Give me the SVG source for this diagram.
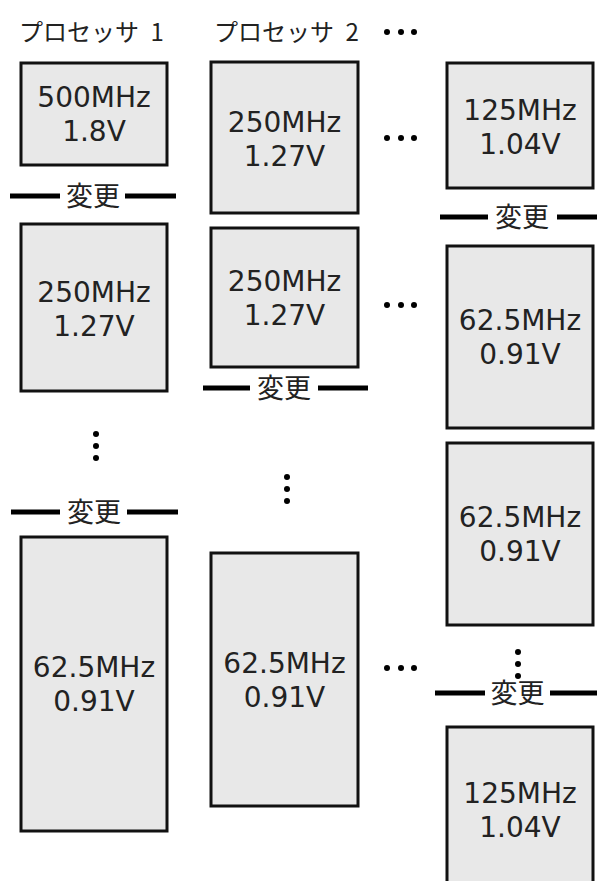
<svg xmlns="http://www.w3.org/2000/svg" width="597" height="881" viewBox="0 0 597 881">
<style>
.box{fill:#e8e8e8;stroke:#111;stroke-width:3}
.t{font-family:"DejaVu Sans","Noto Sans CJK JP",sans-serif;font-size:28px;fill:#222;text-anchor:middle}
.title{font-family:"Noto Sans CJK JP","DejaVu Sans",sans-serif;font-size:24px;fill:#222;word-spacing:6px}
.chg{font-family:"Noto Sans CJK JP",sans-serif;font-size:27px;fill:#222;text-anchor:middle}
.sep{stroke:#000;stroke-width:5}
.dot{fill:#000}
</style>
<rect width="597" height="881" fill="#fff"/>
<g id="titles">
<text class="title" x="19" y="41">プロセッサ 1</text>
<text class="title" x="214" y="41">プロセッサ 2</text>
</g>
<g id="p1-b1"><rect class="box" x="21" y="63" width="146" height="102"/><text class="t" x="94" y="107">500MHz</text><text class="t" x="94" y="141">1.8V</text></g>
<g id="p1-b2"><rect class="box" x="21" y="224" width="146" height="167"/><text class="t" x="94" y="302">250MHz</text><text class="t" x="94" y="336">1.27V</text></g>
<g id="p1-b3"><rect class="box" x="21" y="537" width="146" height="294"/><text class="t" x="94" y="677">62.5MHz</text><text class="t" x="94" y="711">0.91V</text></g>
<g id="p2-b1"><rect class="box" x="211" y="62" width="147" height="151"/><text class="t" x="284.5" y="132">250MHz</text><text class="t" x="284.5" y="166">1.27V</text></g>
<g id="p2-b2"><rect class="box" x="211" y="228" width="147" height="139"/><text class="t" x="284.5" y="291">250MHz</text><text class="t" x="284.5" y="325">1.27V</text></g>
<g id="p2-b3"><rect class="box" x="211" y="553" width="147" height="253"/><text class="t" x="284.5" y="673">62.5MHz</text><text class="t" x="284.5" y="707">0.91V</text></g>
<g id="pn-b1"><rect class="box" x="447" y="63" width="146" height="125"/><text class="t" x="520" y="120">125MHz</text><text class="t" x="520" y="154">1.04V</text></g>
<g id="pn-b2"><rect class="box" x="447" y="246" width="146" height="182"/><text class="t" x="520" y="330">62.5MHz</text><text class="t" x="520" y="364">0.91V</text></g>
<g id="pn-b3"><rect class="box" x="447" y="443" width="146" height="182"/><text class="t" x="520" y="527">62.5MHz</text><text class="t" x="520" y="561">0.91V</text></g>
<g id="pn-b4"><rect class="box" x="447" y="727" width="146" height="170"/><text class="t" x="520" y="803">125MHz</text><text class="t" x="520" y="837">1.04V</text></g>
<g id="connectors">
<g id="chg1"><line class="sep" x1="10" y1="196" x2="60" y2="196"/><line class="sep" x1="125" y1="196" x2="176" y2="196"/><text class="chg" x="93" y="206">変更</text></g>
<g id="chg2"><line class="sep" x1="11" y1="512" x2="60" y2="512"/><line class="sep" x1="127" y1="512" x2="178" y2="512"/><text class="chg" x="94" y="522">変更</text></g>
<g id="chg3"><line class="sep" x1="203" y1="388" x2="250" y2="388"/><line class="sep" x1="318" y1="388" x2="368" y2="388"/><text class="chg" x="284" y="398">変更</text></g>
<g id="chg4"><line class="sep" x1="440" y1="217" x2="488" y2="217"/><line class="sep" x1="557" y1="217" x2="597" y2="217"/><text class="chg" x="522" y="227">変更</text></g>
<g id="chg5"><line class="sep" x1="435" y1="693" x2="485" y2="693"/><line class="sep" x1="550" y1="693" x2="597" y2="693"/><text class="chg" x="517.5" y="703">変更</text></g>
</g>
<g id="ellipses" class="dot">
<circle cx="387" cy="32" r="3"/><circle cx="401" cy="32" r="3"/><circle cx="414" cy="32" r="3"/>
<circle cx="387" cy="138" r="3"/><circle cx="401" cy="138" r="3"/><circle cx="414" cy="138" r="3"/>
<circle cx="387" cy="305" r="3"/><circle cx="401" cy="305" r="3"/><circle cx="414" cy="305" r="3"/>
<circle cx="387" cy="668" r="3"/><circle cx="401" cy="668" r="3"/><circle cx="414" cy="668" r="3"/>
<circle cx="96" cy="434" r="3"/><circle cx="96" cy="446" r="3"/><circle cx="96" cy="458" r="3"/>
<circle cx="287" cy="477" r="3"/><circle cx="287" cy="489" r="3"/><circle cx="287" cy="501" r="3"/>
<circle cx="518" cy="652" r="3"/><circle cx="518" cy="664" r="3"/><circle cx="518" cy="676" r="3"/>
</g>
</svg>
